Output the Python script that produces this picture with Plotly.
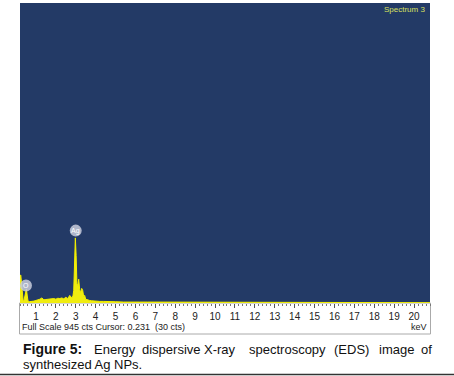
import plotly.graph_objects as go

# ---- data ----
energy_kev = [0.20, 0.24, 0.28, 0.32, 0.36, 0.40, 0.44, 0.48, 0.52, 0.56, 0.60,
              0.66, 0.72, 0.80, 0.90, 1.00, 1.10, 1.20, 1.30, 1.40, 1.50, 1.60,
              1.70, 1.80, 1.90, 2.00, 2.10, 2.20, 2.30, 2.40, 2.50, 2.60, 2.70,
              2.80, 2.86, 2.90, 2.94, 2.98, 3.02, 3.06, 3.10, 3.15, 3.20, 3.25,
              3.30, 3.35, 3.40, 3.45, 3.50, 3.60, 3.70, 3.80, 3.90, 4.00, 4.20,
              4.40, 4.60, 4.80, 5.00, 5.40, 5.80, 6.20, 6.60, 7.00, 7.50, 8.00,
              8.50, 9.00, 10.0, 12.0, 14.0, 16.0, 18.0, 20.0, 20.8]
counts = [86, 88, 60, 12, 6, 8, 20, 38, 44, 25, 7,
          4, 4, 5, 6, 8, 9, 12, 16, 10, 11, 12,
          12, 13, 14, 12, 15, 14, 16, 13, 18, 14, 24,
          16, 22, 40, 120, 205, 150, 60, 55, 75, 42, 32,
          46, 40, 20, 24, 12, 9, 8, 7, 6, 6, 5,
          5, 4, 4, 4, 3, 4, 3, 3, 3, 2, 3,
          2, 2, 1, 1, 1, 1, 1, 1, 1]
full_scale = 945
x_ticks = list(range(1, 21))
peak_labels = ["Ag", "O"]
peak_energy = [3.0, 0.5]
peak_label_y = [228, 55]

# ---- layout helpers (pixel geometry of the page) ----
W, H = 454, 376
L, R, T, B = 20, 430, 3, 303  # plot area edges in px


def px_x(p):
    return (p - L) / (R - L)


def px_y(p):
    return (B - p) / (B - T)


NARROW = "Liberation Sans Narrow, Liberation Sans, Arial"

fig = go.Figure()
fig.add_trace(go.Scatter(
    x=energy_kev, y=counts, mode="lines", fill="tozeroy",
    line=dict(color="#F4F000", width=1, shape="linear"),
    fillcolor="#F0EC10", hoverinfo="skip", showlegend=False,
))

fig.update_layout(
    width=W, height=H,
    margin=dict(l=L, r=W - R, t=T, b=H - B),
    paper_bgcolor="white", plot_bgcolor="#233A66",
    xaxis=dict(range=[0.2, 20.8], tickvals=x_ticks, ticktext=[str(t) for t in x_ticks],
               ticks="outside", ticklen=4, tickwidth=1, tickcolor="#555555",
               showgrid=False, zeroline=False, showline=False,
               tickfont=dict(family=NARROW, size=10, color="#222222"),
               minor=dict(dtick=0.2, tick0=0, ticks="outside", ticklen=2, tickcolor="#777777", showgrid=False)),
    yaxis=dict(range=[0, full_scale], visible=False, showgrid=False, zeroline=False),
    font=dict(family="Liberation Sans, Arial"),
)

# peak markers (grey circles with element symbol)
for lab, ex, ey in zip(peak_labels, peak_energy, peak_label_y):
    fig.add_shape(type="circle", xref="x", yref="y", xsizemode="pixel", ysizemode="pixel",
                  xanchor=ex, yanchor=ey, x0=-6, x1=6, y0=-6, y1=6,
                  fillcolor="rgba(200,205,220,0.85)", line=dict(width=0))
    fig.add_annotation(x=ex, y=ey, text=lab, showarrow=False, xref="x", yref="y",
                       font=dict(size=7, color="white", family=NARROW))

# Spectrum label
fig.add_annotation(x=px_x(427), y=px_y(9), xref="paper", yref="paper", text="Spectrum 3",
                   showarrow=False, xanchor="right", yanchor="middle",
                   font=dict(size=8, color="#D8E060", family=NARROW))

# white strip box below the spectrum
fig.add_shape(type="rect", xref="paper", yref="paper", x0=px_x(19.5), x1=px_x(430.5),
              y0=px_y(334), y1=px_y(B), line=dict(color="#AAAAAA", width=1), layer="below")

fig.add_annotation(x=px_x(20), y=px_y(327), xref="paper", yref="paper",
                   text="Full Scale 945 cts Cursor: 0.231  (30 cts)", showarrow=False,
                   xanchor="left", yanchor="middle",
                   font=dict(size=9, color="#222222", family=NARROW))
fig.add_annotation(x=px_x(429), y=px_y(327), xref="paper", yref="paper", text="keV",
                   showarrow=False, xanchor="right", yanchor="middle",
                   font=dict(size=9, color="#222222", family=NARROW))

# caption (justified first line: words placed individually)
cap_words = ["<b>Figure 5:</b>", "Energy", "dispersive", "X-ray", "spectroscopy", "(EDS)", "image", "of"]
cap_x = [21, 92, 140, 202, 247, 332, 377, 419]
cap_size = [14, 13, 13, 13, 13, 13, 13, 13]
for wtxt, wx, ws in zip(cap_words, cap_x, cap_size):
    fig.add_annotation(x=px_x(wx), y=px_y(349), xref="paper", yref="paper", text=wtxt,
                       showarrow=False, xanchor="left", yanchor="middle",
                       font=dict(size=ws, color="#111111", family="Liberation Sans, Arial"))
fig.add_annotation(x=px_x(21), y=px_y(364), xref="paper", yref="paper", text="synthesized Ag NPs.",
                   showarrow=False, xanchor="left", yanchor="middle",
                   font=dict(size=13, color="#111111", family="Liberation Sans, Arial"))

# bottom rule
fig.add_shape(type="line", xref="paper", yref="paper", x0=px_x(0), x1=px_x(W),
              y0=px_y(374.5), y1=px_y(374.5), line=dict(color="#333333", width=1.5))

fig.write_html("out.html", config={"displayModeBar": False, "staticPlot": True},
               post_script="document.body.style.margin='0';document.body.style.overflow='hidden';")
